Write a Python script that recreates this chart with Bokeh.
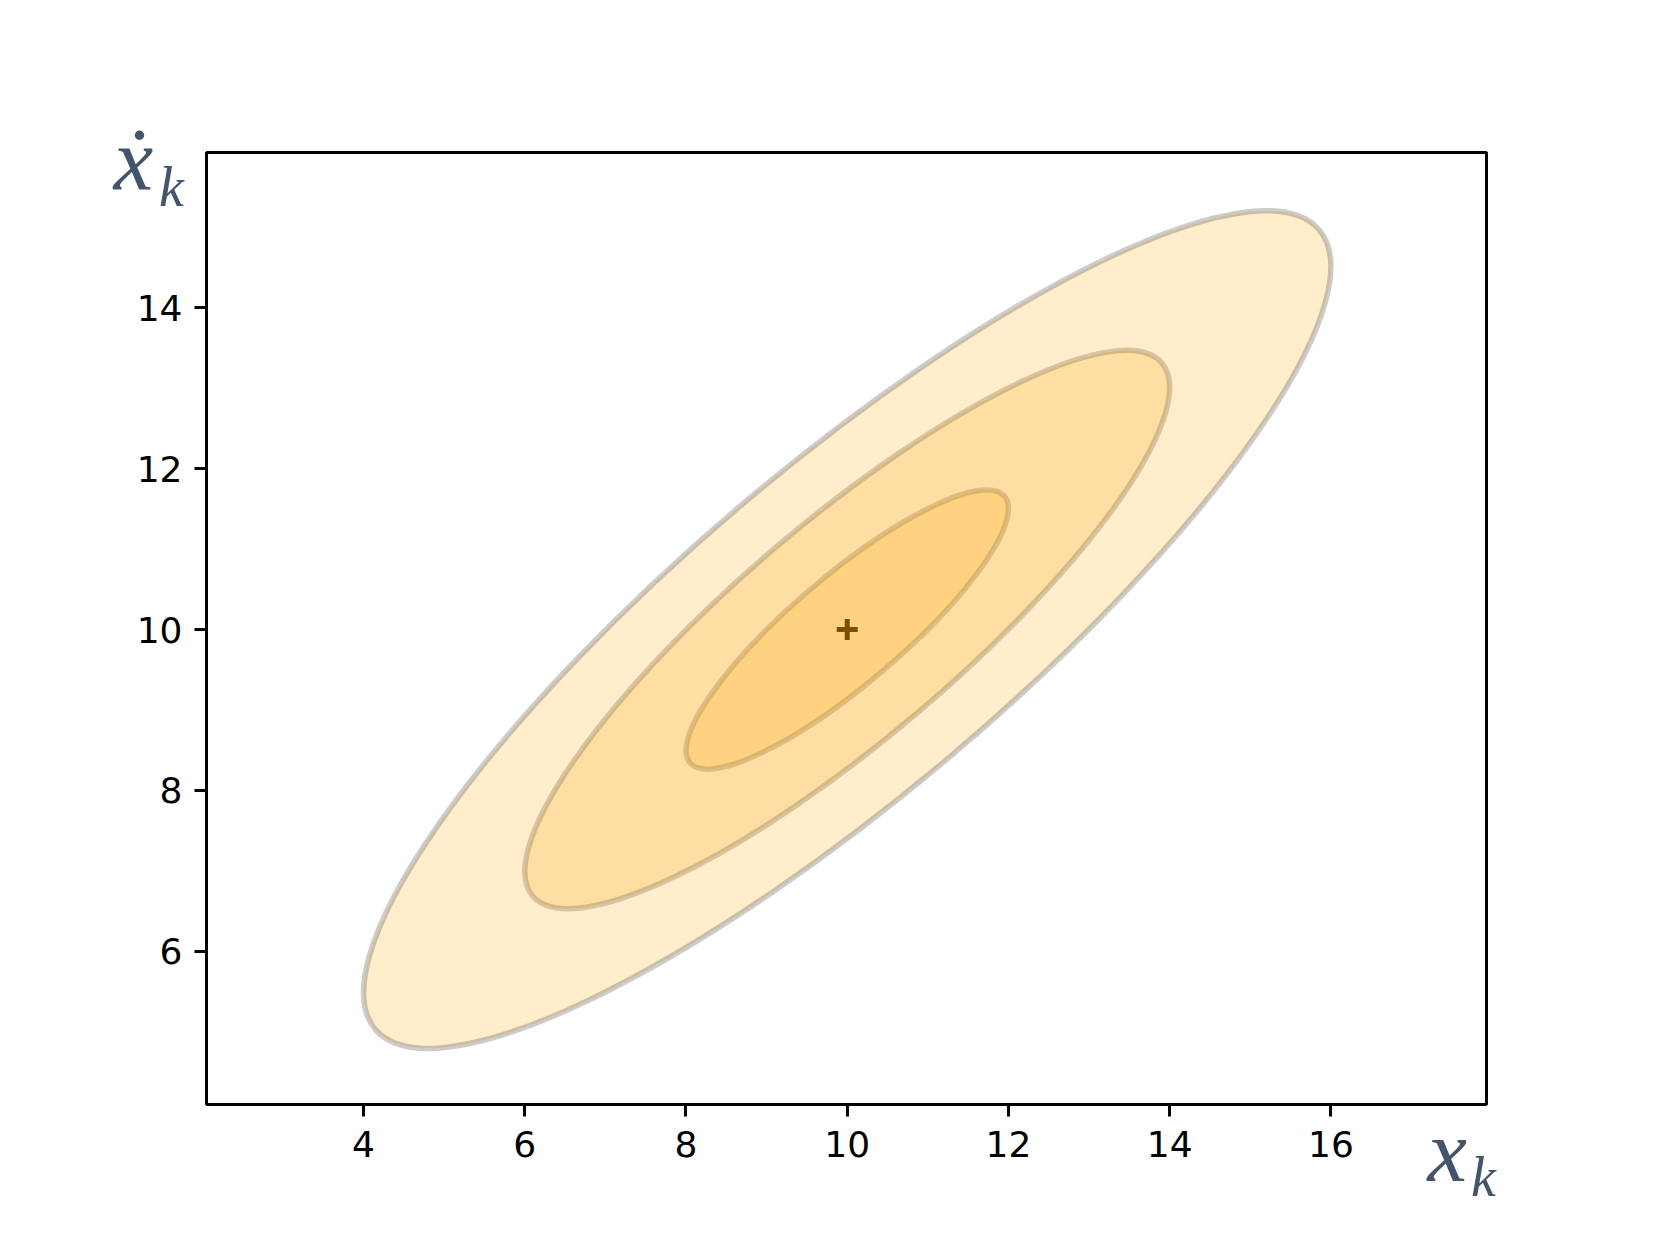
import numpy as np
from bokeh.plotting import figure
from bokeh.models import Range1d, FixedTicker, Label
from bokeh.embed import file_html
from bokeh.resources import INLINE

# ---- data ----
mean = [10.0, 10.0]
cov = [[4.0, 3.0], [3.0, 3.0]]
std_levels = [1, 2, 3]
x_ticks = [4, 6, 8, 10, 12, 14, 16]
y_ticks = [6, 8, 10, 12, 14]
x_label_main = "x"
y_label_main = "ẋ"
sub_label = "k"

# ellipse geometry from covariance
vals, vecs = np.linalg.eigh(np.array(cov))
order = np.argsort(vals)[::-1]
vals, vecs = vals[order], vecs[:, order]
angle = float(np.arctan2(vecs[1, 0], vecs[0, 0]))
widths = [2 * s * np.sqrt(vals[0]) for s in std_levels]
heights = [2 * s * np.sqrt(vals[1]) for s in std_levels]

p = figure(output_backend="svg", toolbar_location=None,
           frame_width=1280, frame_height=952,
           min_border_left=206, min_border_right=152,
           min_border_top=152, min_border_bottom=122,
           x_range=Range1d(2.052, 17.93), y_range=Range1d(4.096, 15.93))

p.grid.visible = False
p.background_fill_color = "white"
p.border_fill_color = "white"
p.outline_line_color = "black"
p.outline_line_width = 3
p.outline_line_alpha = 1.0

for ax in (p.xaxis, p.yaxis):
    ax.axis_line_color = None
    ax.major_tick_line_color = "black"
    ax.major_tick_line_width = 3
    ax.major_tick_out = 12
    ax.major_tick_in = 0
    ax.minor_tick_line_color = None
    ax.major_label_text_font = "DejaVu Sans"
    ax.major_label_text_font_size = "36px"
    ax.major_label_text_color = "black"
p.xaxis.ticker = FixedTicker(ticks=x_ticks)
p.yaxis.ticker = FixedTicker(ticks=y_ticks)
p.xaxis.major_label_standoff = 14
p.yaxis.major_label_standoff = 12

# centre marker (drawn beneath the ellipses)
p.scatter(x=[mean[0]], y=[mean[1]], marker="cross", size=21,
          line_color="black", line_width=5)

for w, h in zip(widths, heights):
    p.ellipse(x=[mean[0]], y=[mean[1]], width=[w], height=[h], angle=angle,
              fill_color="orange", fill_alpha=0.2,
              line_color="black", line_alpha=0.2, line_width=5.5)

col = "#44546A"
font = "Liberation Serif"
main_fs = 89
sub_fs = 56
desc = 0.216                  # font descent (em), text_baseline="bottom"
main_w = 0.444 * main_fs      # advance width of "x" (stacked in right panel)
sub_w = 0.444 * sub_fs        # advance width of "k"


def lab(x, y, text, fs):
    return Label(x=x, y=y, x_units="screen", y_units="screen", text=text,
                 text_font=font, text_font_style="italic",
                 text_font_size=f"{fs}px", text_color=col,
                 text_baseline="bottom", text_align="left")


# labels live in side panels (not clipped by the frame)
# above panel: origin = frame top-left (frame top at 152 px)
p.add_layout(lab(-93, 152 - (188 + desc * main_fs), y_label_main, main_fs), "above")
# right panel: origin = frame bottom-right (frame bottom at 1104 px), items stacked outward
p.add_layout(lab(-59, 1104 - (1180 + desc * main_fs), x_label_main, main_fs), "right")
p.add_layout(lab(-16 - main_w, 1104 - (1195 + desc * sub_fs), sub_label, sub_fs), "right")
p.add_layout(lab(158 - (1486 + main_w + sub_w), 1104 - (205 + desc * sub_fs),
                 sub_label, sub_fs), "right")

open("out.html", "w").write(file_html(p, INLINE))
